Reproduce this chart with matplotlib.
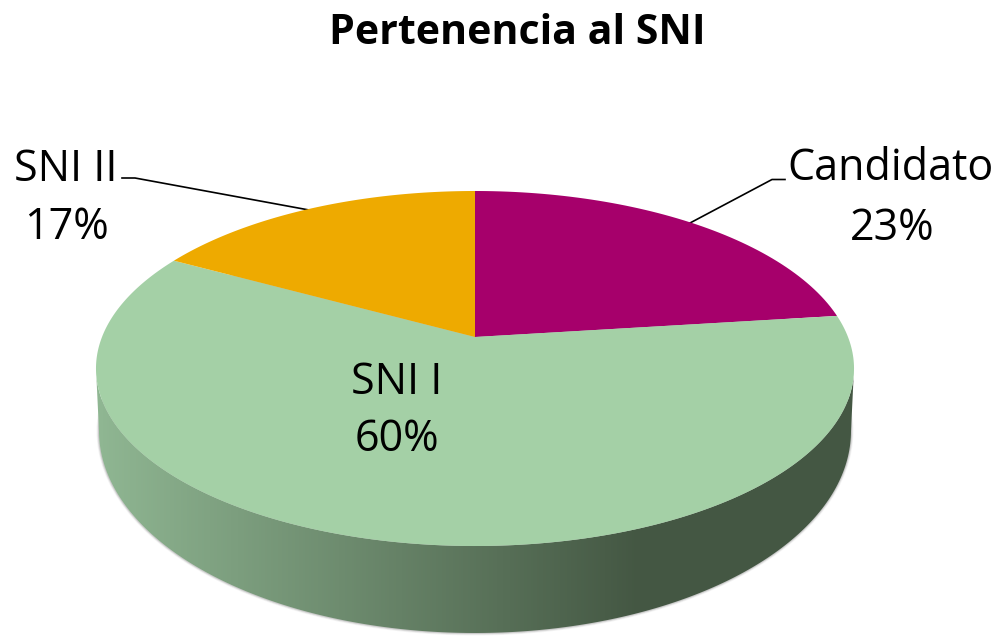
#!/usr/bin/env python3
"""Pertenencia al SNI - pastel con perspectiva"""

import numpy as np
import matplotlib
matplotlib.use('Agg')
import matplotlib.pyplot as plt
from matplotlib.colors import LinearSegmentedColormap
from matplotlib.patches import Ellipse, PathPatch
from matplotlib.path import Path
from matplotlib.transforms import Transform

TITLE = 'Pertenencia al SNI'
categories = ['Candidato', 'SNI I', 'SNI II']
shares = [23, 60, 17]
colors = ['#A6006B', '#A4D0A6', '#EEAA00']

plt.rcParams['font.family'] = ['Open Sans', 'DejaVu Sans']


class Tilt(Transform):
    """lleva el circulo unitario del pastel a pixeles, con perspectiva"""
    input_dims = 2
    output_dims = 2
    is_separable = False
    has_inverse = False
    k = 0.1775

    def transform_non_affine(self, xy):
        xy = np.asarray(xy, dtype=float)
        w = 1 + self.k * xy[:, 1]
        return np.column_stack([475 + 373 * xy[:, 0] / w,
                                (337 - 112.1 * xy[:, 1]) / w])

    def transform_path_non_affine(self, path):
        # aplanar las curvas antes de proyectar
        big = Path(path.vertices * 2000, path.codes)
        poly = big.to_polygons(closed_only=False)[0] / 2000
        return Path(self.transform_non_affine(poly))


fig = plt.figure(figsize=(9.96, 6.36), dpi=100)
ax = fig.add_axes([0, 0, 1, 1])

wedges, _ = ax.pie(shares, colors=colors, startangle=90, counterclock=False,
                   radius=1, wedgeprops={'linewidth': 0})
tilt = Tilt()
for w in wedges:
    w.set_transform(tilt + ax.transData)
    w.set_zorder(4)

# sombra del borde
for grow, alpha in [(5, 0.06), (3.5, 0.10), (2, 0.18)]:
    ax.add_patch(Ellipse((475, 431), 752 + grow, 404 + grow, fc='#555555', ec='none',
                         alpha=alpha, zorder=1))

# pared lateral con degradado
t = np.linspace(np.pi, 0, 200)
low = np.column_stack([475 + 376 * np.cos(t), 431 + 202 * np.sin(t)])
t2 = np.linspace(0, np.pi, 200)
top = np.column_stack([475 + 379 * np.cos(t2), 368.5 + 177.5 * np.sin(t2)])
wall = PathPatch(Path(np.vstack([low, top, low[:1]]), closed=True), fc='none', ec='none',
                 transform=ax.transData)
ax.add_patch(wall)
cmap = LinearSegmentedColormap.from_list('pared', ['#8FB692', '#445743'])
grad = np.clip((np.arange(90, 860) - 100) / 540, 0, 1).reshape(1, -1)
img = ax.imshow(grad, cmap=cmap, extent=(90, 860, 640, 360), aspect='auto', zorder=2,
                vmin=0, vmax=1)
img.set_clip_path(wall)

# lineas guia
ax.plot([122, 135, 309], [178, 178, 210], color='black', lw=1.2, zorder=3)
ax.plot([785, 772, 690], [179.5, 179.5, 223], color='black', lw=1.2, zorder=3)

# textos
ax.text(517, 33, TITLE, fontsize=29.6, fontweight='bold', ha='center', va='center')
ax.text(891, 169, categories[0], fontsize=31, ha='center', va='center')
ax.text(892, 229, f'{shares[0]}%', fontsize=31, ha='center', va='center')
ax.text(397, 383, categories[1], fontsize=31, ha='center', va='center', zorder=5)
ax.text(397, 440, f'{shares[1]}%', fontsize=31, ha='center', va='center', zorder=5)
ax.text(66, 170, categories[2], fontsize=31, ha='center', va='center')
ax.text(66, 228, f'{shares[2]}%', fontsize=31, ha='center', va='center')

ax.set_aspect('auto')
ax.set_xlim(0, 996)
ax.set_ylim(636, 0)
ax.axis('off')

fig.savefig('out.png', dpi=100)
plt.close(fig)
